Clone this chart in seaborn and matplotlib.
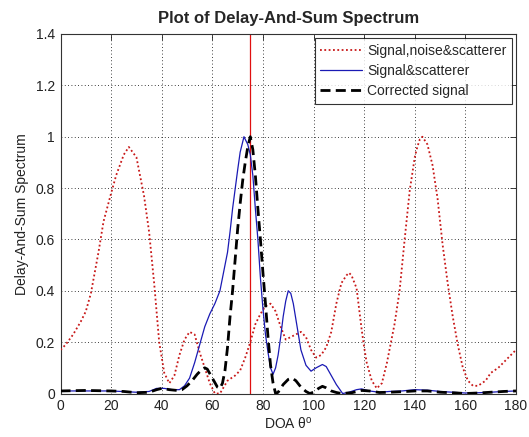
import matplotlib
matplotlib.use("Agg")
import matplotlib.pyplot as plt
import seaborn as sns
import pandas as pd

# Signal, noise & scatterer (red dotted)
noisy_doa = [0, 2, 5, 8, 10, 12, 15, 17, 20, 22,
             25, 27, 30, 33, 35, 37, 39, 41, 43, 45,
             47, 49, 51, 53, 55, 57, 59, 61, 63, 66,
             69, 71, 73, 75, 77, 79, 81, 83, 85, 87,
             89, 91, 93, 95, 97, 99, 101, 103, 105, 107,
             109, 111, 113, 114, 115, 117, 118, 119, 120, 121,
             123, 125, 127, 129, 130, 132, 134, 136, 138, 140,
             141, 142, 143, 145, 147, 149, 151, 153, 155, 157,
             159, 161, 163, 165, 168, 170, 173, 175, 178, 180]
noisy_val = [0.17, 0.19, 0.23, 0.28, 0.32, 0.39, 0.55, 0.67, 0.78, 0.85,
             0.93, 0.96, 0.92, 0.77, 0.63, 0.43, 0.20, 0.08, 0.04, 0.07,
             0.15, 0.21, 0.24, 0.23, 0.16, 0.10, 0.04, 0.00, 0.00, 0.05,
             0.07, 0.09, 0.14, 0.20, 0.27, 0.31, 0.34, 0.35, 0.32, 0.26,
             0.21, 0.22, 0.23, 0.24, 0.22, 0.17, 0.14, 0.15, 0.18, 0.24,
             0.35, 0.43, 0.46, 0.47, 0.46, 0.41, 0.33, 0.25, 0.18, 0.12,
             0.05, 0.02, 0.04, 0.12, 0.17, 0.27, 0.40, 0.60, 0.79, 0.92,
             0.96, 0.99, 1.00, 0.97, 0.89, 0.76, 0.58, 0.43, 0.30, 0.19,
             0.10, 0.05, 0.03, 0.03, 0.05, 0.08, 0.10, 0.12, 0.15, 0.17]

# Signal & scatterer (blue solid)
scat_doa = [0, 10, 20, 30, 35, 38, 41, 44, 47, 49,
            51, 53, 55, 57, 59, 61, 63, 64, 66, 67,
            68, 70, 71, 72.5, 74, 75, 76, 77, 78, 79,
            80, 81, 82, 83, 84, 85, 86, 87, 88, 89,
            90, 91, 92, 93, 94, 95, 97, 99, 101, 103.5,
            105, 107, 109, 111.5, 114, 117, 119, 122, 126, 130,
            135, 140, 145, 150, 155, 160, 165, 170, 175, 180]
scat_val = [0.010, 0.010, 0.010, 0.005, 0.008, 0.020, 0.020, 0.015, 0.015, 0.030,
            0.060, 0.120, 0.190, 0.260, 0.310, 0.350, 0.400, 0.450, 0.550, 0.630,
            0.720, 0.870, 0.940, 1.000, 0.970, 0.930, 0.850, 0.720, 0.600, 0.450,
            0.330, 0.230, 0.160, 0.100, 0.075, 0.100, 0.150, 0.220, 0.300, 0.360,
            0.400, 0.390, 0.350, 0.290, 0.230, 0.170, 0.110, 0.087, 0.100, 0.113,
            0.105, 0.070, 0.035, 0.000, 0.005, 0.015, 0.018, 0.010, 0.005, 0.008,
            0.010, 0.015, 0.013, 0.008, 0.005, 0.002, 0.003, 0.005, 0.008, 0.010]

# Corrected signal (black dashed)
corr_doa = [0, 10, 20, 25, 30, 35, 38, 40, 43, 46,
            48, 50, 52, 54, 56, 57, 58, 60, 62, 63,
            64, 65, 66, 67, 68, 69, 70, 71, 72, 73,
            74, 75, 76, 77, 78, 79, 80, 81, 82, 83,
            84, 85, 86, 88, 90, 91.5, 93, 95, 97, 98.5,
            100, 102, 103.5, 105, 107, 109, 111, 115, 119, 122,
            126, 130, 135, 140, 145, 150, 155, 160, 165, 170,
            175, 180]
corr_val = [0.010, 0.012, 0.010, 0.008, 0.003, 0.005, 0.015, 0.020, 0.015, 0.012,
            0.015, 0.030, 0.050, 0.075, 0.095, 0.100, 0.095, 0.060, 0.025, 0.020,
            0.040, 0.090, 0.180, 0.300, 0.400, 0.520, 0.640, 0.740, 0.830, 0.900,
            0.960, 1.000, 0.950, 0.850, 0.720, 0.600, 0.470, 0.350, 0.220, 0.110,
            0.040, 0.000, 0.005, 0.035, 0.055, 0.060, 0.050, 0.025, 0.008, 0.000,
            0.005, 0.020, 0.028, 0.022, 0.010, 0.004, 0.000, 0.003, 0.012, 0.010,
            0.004, 0.005, 0.007, 0.010, 0.010, 0.005, 0.003, 0.000, 0.002, 0.005,
            0.008, 0.010]

true_doa = 75
x_ticks = list(range(0, 181, 20))
y_ticks = [0, 0.2, 0.4, 0.6, 0.8, 1.0, 1.2, 1.4]
y_tick_labels = ["0", "0.2", "0.4", "0.6", "0.8", "1", "1.2", "1.4"]

sns.set_style("white")
plt.rcParams["font.family"] = ["Liberation Sans", "DejaVu Sans"]
plt.rcParams["mathtext.fontset"] = "custom"
plt.rcParams["mathtext.rm"] = "Liberation Sans"

fig = plt.figure(figsize=(5.29, 4.37), dpi=100)
ax = fig.add_axes([0.1144, 0.0995, 0.861, 0.8227])

noisy = pd.DataFrame({"doa": noisy_doa, "val": noisy_val})
scat = pd.DataFrame({"doa": scat_doa, "val": scat_val})
corr = pd.DataFrame({"doa": corr_doa, "val": corr_val})

ax.axvline(true_doa, color="#e01010", lw=0.9, zorder=1)
sns.lineplot(data=noisy, x="doa", y="val", ax=ax, estimator=None, color="#c81818",
             lw=1.3, linestyle=(0, (1, 1.4)), label="Signal,noise&scatterer", zorder=3)
sns.lineplot(data=scat, x="doa", y="val", ax=ax, estimator=None, color="#1a1ab4",
             lw=0.9, label="Signal&scatterer", zorder=4)
sns.lineplot(data=corr, x="doa", y="val", ax=ax, estimator=None, color="black",
             lw=2.0, linestyle=(0, (3.6, 1.9)), label="Corrected signal", zorder=5)

ax.set_xlim(0, 180)
ax.set_ylim(0, 1.4)
ax.set_xticks(x_ticks)
ax.set_xticklabels([str(t) for t in x_ticks])
ax.set_yticks(y_ticks)
ax.set_yticklabels(y_tick_labels)
ax.tick_params(direction="in", top=True, right=True, length=4, width=0.6,
               labelsize=10, colors="#222222", pad=4)
ax.grid(True, color="black", linestyle=(0, (1, 3)), lw=0.6)
for s in ax.spines.values():
    s.set_color("#333333")
    s.set_linewidth(0.8)

ax.set_title("Plot of Delay-And-Sum Spectrum", fontsize=12, fontweight="bold", pad=8)
ax.set_xlabel(r"DOA θ$^{\mathrm{o}}$", fontsize=10, color="#222222", labelpad=2)
ax.set_ylabel("Delay-And-Sum Spectrum", fontsize=10, color="#222222", labelpad=5)

leg = ax.legend(loc="upper right", fontsize=10, frameon=True, fancybox=False,
                borderaxespad=0.3, handlelength=3.0, handletextpad=0.35,
                labelspacing=0.45, borderpad=0.4)
leg.get_frame().set_edgecolor("black")
leg.get_frame().set_linewidth(0.8)

fig.savefig("out.png", dpi=100)
